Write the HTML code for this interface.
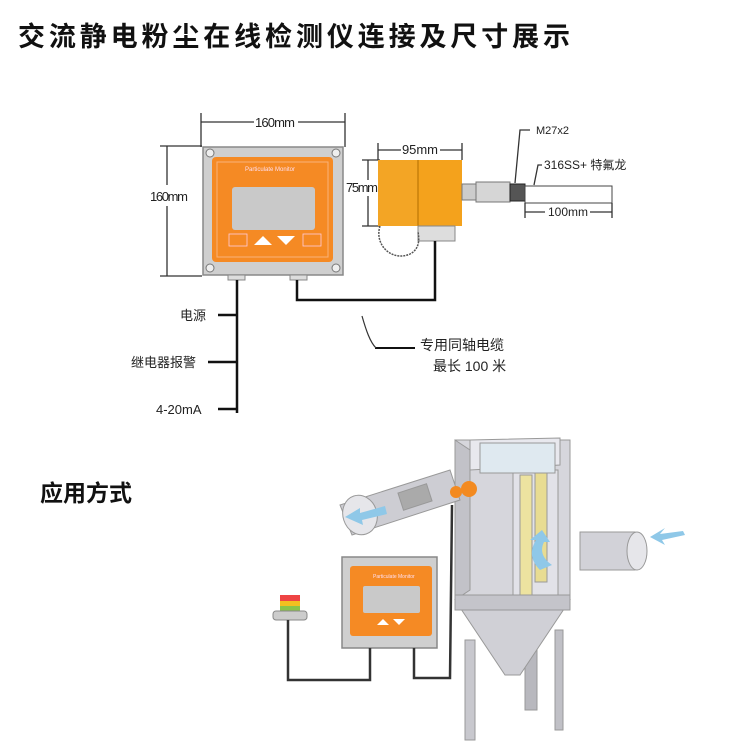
<!DOCTYPE html>
<html><head><meta charset="utf-8"><style>
html,body{margin:0;padding:0;background:#fff;}
svg{display:block;}
text{font-family:"Liberation Sans","Noto Sans CJK SC",sans-serif;}
</style></head><body>
<svg width="750" height="750" viewBox="0 0 750 750" xmlns="http://www.w3.org/2000/svg">
<text x="18" y="46" font-size="27" font-weight="bold" fill="#111" textLength="552">交流静电粉尘在线检测仪连接及尺寸展示</text>

<g stroke="#333" stroke-width="1.3" fill="none">
<line x1="201" y1="113" x2="201" y2="147"/><line x1="345" y1="113" x2="345" y2="147"/>
<line x1="201" y1="122" x2="254" y2="122"/><line x1="298" y1="122" x2="345" y2="122"/>
<line x1="160" y1="146" x2="202" y2="146"/><line x1="160" y1="276" x2="202" y2="276"/>
<line x1="167" y1="146" x2="167" y2="185"/><line x1="167" y1="206" x2="167" y2="276"/>
</g>
<text x="255" y="127" font-size="13" fill="#222" textLength="40">160mm</text>
<text x="150" y="201" font-size="13" fill="#222" textLength="38">160mm</text>

<rect x="203" y="147" width="140" height="128" fill="#cfcfcf" stroke="#888" stroke-width="1.5"/>
<g fill="#eee" stroke="#777"><circle cx="210" cy="153" r="4"/><circle cx="336" cy="153" r="4"/><circle cx="210" cy="268" r="4"/><circle cx="336" cy="268" r="4"/></g>
<rect x="212" y="157" width="121" height="105" rx="4" fill="#f58a24"/>
<rect x="217" y="162" width="111" height="95" fill="none" stroke="#f9b37a" stroke-width="1"/>
<text x="245" y="171" font-size="6" fill="#fde">Particulate Monitor</text>
<rect x="232" y="187" width="83" height="43" rx="3" fill="#c9c9c9"/>
<g fill="#fff"><polygon points="254,245 263,236 272,245"/><polygon points="277,236 295,236 286,245"/></g>
<g fill="none" stroke="#fcd" stroke-width="0.8"><rect x="229" y="234" width="18" height="12"/><rect x="303" y="234" width="18" height="12"/></g>
<rect x="228" y="275" width="17" height="5" fill="#ddd" stroke="#888"/>
<rect x="290" y="275" width="17" height="5" fill="#ddd" stroke="#888"/>

<g stroke="#333" stroke-width="1.3" fill="none">
<line x1="378" y1="143" x2="378" y2="160"/><line x1="462" y1="143" x2="462" y2="160"/>
<line x1="378" y1="150" x2="401" y2="150"/><line x1="440" y1="150" x2="462" y2="150"/>
<line x1="362" y1="160" x2="380" y2="160"/><line x1="362" y1="226" x2="380" y2="226"/>
<line x1="368" y1="160" x2="368" y2="180"/><line x1="368" y1="196" x2="368" y2="226"/>
</g>
<text x="402" y="154" font-size="13" fill="#222" textLength="36">95mm</text>
<text x="346" y="192" font-size="13" fill="#222" textLength="32">75mm</text>
<rect x="378" y="160" width="84" height="66" fill="#f4a21c"/>
<rect x="378" y="160" width="40" height="66" fill="#f3a525"/>
<line x1="418" y1="160" x2="418" y2="226" stroke="#b26d00" stroke-width="1"/>
<rect x="418" y="226" width="37" height="15" fill="#ddd" stroke="#888"/>
<path d="M380,226 C374,245 392,262 410,254 C418,250 420,242 418,232" fill="none" stroke="#555" stroke-width="1.5" stroke-dasharray="2 1"/>
<rect x="462" y="184" width="14" height="16" fill="#ccc" stroke="#777"/>
<rect x="476" y="182" width="34" height="20" fill="#d6d6d6" stroke="#777"/>
<rect x="510" y="184" width="15" height="17" fill="#555" stroke="#222"/>
<rect x="525" y="186" width="87" height="17" fill="#fff" stroke="#444"/>
<g stroke="#333" stroke-width="1.3" fill="none">
<line x1="525" y1="203" x2="525" y2="218"/><line x1="612" y1="203" x2="612" y2="218"/>
<line x1="525" y1="212" x2="545" y2="212"/><line x1="590" y1="212" x2="612" y2="212"/>
<polyline points="530,130 520,130 515,183"/>
<polyline points="542,165 538,165 534,185"/>
</g>
<text x="536" y="134" font-size="11" fill="#222">M27x2</text>
<text x="544" y="169" font-size="12" fill="#222">316SS+ 特氟龙</text>
<text x="548" y="216" font-size="12" fill="#222" textLength="40">100mm</text>

<g stroke="#111" stroke-width="2.5" fill="none">
<line x1="237" y1="280" x2="237" y2="413"/>
<polyline points="297,280 297,300 435,300 435,241"/>
<line x1="218" y1="315" x2="237" y2="315"/>
<line x1="208" y1="362" x2="237" y2="362"/>
<line x1="218" y1="409" x2="237" y2="409"/>
<polyline points="375,348 415,348" stroke-width="2"/>
</g>
<path d="M362,316 C366,330 370,342 376,348" stroke="#333" fill="none" stroke-width="1.2"/>
<text x="180" y="320" font-size="13" fill="#222">电源</text>
<text x="131" y="367" font-size="13" fill="#222">继电器报警</text>
<text x="156" y="414" font-size="13" fill="#222">4-20mA</text>
<text x="420" y="350" font-size="14" fill="#222">专用同轴电缆</text>
<text x="433" y="371" font-size="14" fill="#222">最长 100 米</text>

<text x="40" y="501" font-size="23" font-weight="bold" fill="#111">应用方式</text>

<g stroke="#999" stroke-width="1">
<rect x="465" y="640" width="10" height="100" fill="#c8c8ce"/>
<rect x="555" y="630" width="8" height="100" fill="#c0c0c6"/>
<rect x="525" y="640" width="12" height="70" fill="#b8b8be"/>
<polygon points="455,600 570,600 520,675 505,675" fill="#d0d0d6"/>
<polygon points="455,440 570,440 570,600 455,600" fill="#d6d6dc"/>
<polygon points="455,440 470,450 470,590 455,600" fill="#c2c2c8"/>
<polygon points="470,440 560,438 560,465 470,470" fill="#e8e8ee"/>
<rect x="513" y="470" width="45" height="130" fill="#e2e2e8"/>
<rect x="520" y="475" width="12" height="120" fill="#ede3a0"/>
<rect x="535" y="472" width="12" height="110" fill="#e8dc92"/>
<rect x="480" y="443" width="75" height="30" fill="#dfe9f0"/>
<polygon points="455,595 570,595 570,610 455,610" fill="#c4c4ca"/>
<polygon points="340,505 450,470 460,500 352,535" fill="#cdcdd3"/>
<ellipse cx="360" cy="515" rx="17" ry="20" fill="#e6e6ea" transform="rotate(-18 360 515)"/>
<rect x="400" y="488" width="30" height="18" fill="#aaa" transform="rotate(-18 415 497)"/>
<rect x="580" y="532" width="55" height="38" fill="#d2d2d8"/>
<ellipse cx="637" cy="551" rx="10" ry="19" fill="#e6e6ea"/>
</g>
<circle cx="469" cy="489" r="8" fill="#f38a20"/>
<circle cx="456" cy="492" r="6" fill="#f38a20"/>
<g fill="#8fc8e8">
<polygon points="345,517 360,508 360,513 385,506 387,514 362,520 363,525"/>
<polygon points="665,528 650,537 665,545 662,540 685,535 683,531 660,534"/>
<path d="M540,570 C530,560 530,550 536,540 L530,540 L542,530 L550,542 L544,542 C540,550 542,558 552,565 Z"/>
</g>

<rect x="342" y="557" width="95" height="91" fill="#cfcfcf" stroke="#888" stroke-width="1.5"/>
<rect x="350" y="566" width="82" height="70" rx="3" fill="#f58a24"/>
<rect x="363" y="586" width="57" height="27" rx="2" fill="#c9c9c9"/>
<g fill="#fff"><polygon points="377,625 383,619 389,625"/><polygon points="393,619 405,619 399,625"/></g>
<text x="373" y="578" font-size="5" fill="#fde">Particulate Monitor</text>

<rect x="280" y="595" width="20" height="6" fill="#e44"/>
<rect x="280" y="601" width="20" height="5" fill="#f3c020"/>
<rect x="280" y="606" width="20" height="5" fill="#8bc34a"/>
<rect x="273" y="611" width="34" height="9" rx="3" fill="#ccc" stroke="#888"/>
<g stroke="#333" stroke-width="2.5" fill="none">
<polyline points="288,620 288,680 370,680 370,648"/>
<polyline points="414,648 414,678 450,678 452,505"/>
</g>
</svg>
</body></html>
